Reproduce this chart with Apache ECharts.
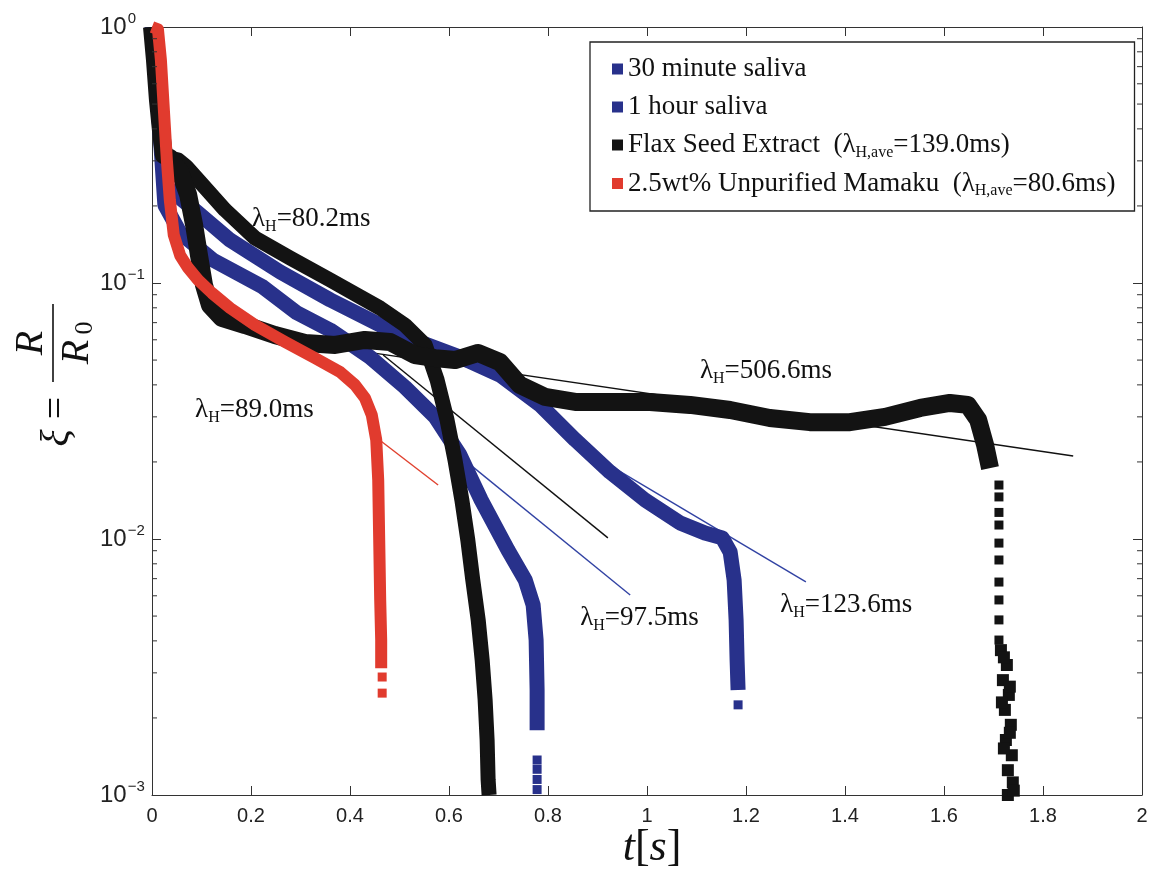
<!DOCTYPE html>
<html>
<head>
<meta charset="utf-8">
<script src="https://cdn.jsdelivr.net/npm/echarts@6.0.0/dist/echarts.min.js"></script>
<style>
  html, body { margin: 0; padding: 0; background: #fff; }
  #chart { width: 1155px; height: 876px; }
</style>
</head>
<body>
<div id="chart"></div>
<script>
// ---- measured filament thinning curves: [t (s), xi = R/R0] ----
const saliva30 = [
  [0, 1], [0.008, 0.621], [0.016, 0.396], [0.024, 0.276], [0.032, 0.235],
  [0.040, 0.228], [0.091, 0.1893], [0.158, 0.147], [0.259, 0.1104], [0.360, 0.0859],
  [0.461, 0.0685], [0.541, 0.0588], [0.622, 0.0514], [0.703, 0.0437], [0.784, 0.0334],
  [0.855, 0.0244], [0.925, 0.01828], [0.996, 0.0142], [1.067, 0.01155],
  [1.117, 0.01055], [1.152, 0.0101], [1.168, 0.0089], [1.176, 0.00692], [1.180, 0.00483],
  [1.182, 0.00337], [1.184, 0.00257]
];
const saliva30Tail = [[1.184, 0.00225]];

const saliva60 = [
  [0, 1], [0.008, 0.621], [0.016, 0.396], [0.026, 0.2016],
  [0.057, 0.1568], [0.123, 0.123], [0.224, 0.0965], [0.293, 0.0764], [0.360, 0.0655],
  [0.440, 0.0514], [0.511, 0.0392], [0.572, 0.030], [0.622, 0.0213],
  [0.665, 0.0142], [0.719, 0.00906], [0.754, 0.00692], [0.770, 0.00552], [0.776, 0.00403],
  [0.778, 0.00257], [0.778, 0.00179]
];
const saliva60Tail = [[0.778, 0.00137], [0.778, 0.00126], [0.778, 0.00115], [0.778, 0.00105]];

const flaxRunA = [
  [0, 1], [0.006, 0.743], [0.012, 0.519], [0.018, 0.396], [0.024, 0.316], [0.036, 0.308],
  [0.053, 0.302], [0.069, 0.285], [0.097, 0.248], [0.1475, 0.193], [0.208, 0.150],
  [0.279, 0.1252], [0.360, 0.1027], [0.461, 0.0798], [0.511, 0.0685], [0.552, 0.0572],
  [0.576, 0.0418], [0.596, 0.0292], [0.612, 0.0204], [0.626, 0.0142], [0.638, 0.0099],
  [0.648, 0.00692], [0.659, 0.00483], [0.667, 0.00337], [0.673, 0.00235], [0.677, 0.00164],
  [0.679, 0.00115], [0.681, 0.001]
];

const flaxRunB = [
  [0, 1], [0.006, 0.743], [0.012, 0.519], [0.018, 0.396], [0.024, 0.316], [0.036, 0.308],
  [0.057, 0.271], [0.073, 0.221], [0.085, 0.169], [0.095, 0.128], [0.105, 0.0982],
  [0.117, 0.082], [0.141, 0.073], [0.188, 0.0685], [0.248, 0.0626], [0.309, 0.0583],
  [0.370, 0.0573], [0.430, 0.0599], [0.481, 0.0588], [0.531, 0.0523], [0.572, 0.0509],
  [0.612, 0.050], [0.659, 0.0533], [0.703, 0.0491], [0.743, 0.040], [0.794, 0.0359],
  [0.855, 0.0343], [0.925, 0.0343], [1.006, 0.0343], [1.087, 0.0334], [1.168, 0.0319],
  [1.248, 0.0297], [1.329, 0.0286], [1.410, 0.0286], [1.481, 0.0300], [1.552, 0.0325],
  [1.612, 0.0340], [1.648, 0.0334], [1.669, 0.0292], [1.683, 0.0233], [1.693, 0.0189]
];
// separated drops falling off the plateau, then the dense final break-up column
const flaxRunBDrops = [
  [1.711, 0.01625], [1.711, 0.0146], [1.711, 0.0127], [1.711, 0.01134], [1.711, 0.00964],
  [1.711, 0.00828], [1.711, 0.00679], [1.711, 0.00578], [1.711, 0.00483], [1.711, 0.00403]
];
const flaxRunBEnd = [
  [1.715, 0.00368], [1.727, 0.00322], [1.719, 0.00281], [1.731, 0.00246], [1.723, 0.00215],
  [1.735, 0.00188], [1.725, 0.00164], [1.737, 0.00143], [1.729, 0.00125], [1.739, 0.00112],
  [1.729, 0.001], [1.721, 0.00345], [1.733, 0.00265], [1.717, 0.00230], [1.733, 0.00175],
  [1.721, 0.00152], [1.741, 0.00104]
];

const mamaku = [
  [0, 1], [0.012, 0.98], [0.018, 0.743], [0.024, 0.474], [0.030, 0.302], [0.036, 0.211],
  [0.044, 0.154], [0.057, 0.128], [0.073, 0.1145], [0.093, 0.1028], [0.121, 0.0914],
  [0.158, 0.0798], [0.208, 0.0685], [0.269, 0.0588], [0.329, 0.0509], [0.380, 0.0449],
  [0.410, 0.0400], [0.430, 0.0356], [0.444, 0.0305], [0.453, 0.0244], [0.457, 0.0170],
  [0.459, 0.0099], [0.461, 0.00578], [0.463, 0.00403], [0.463, 0.00313]
];
const mamakuTail = [[0.465, 0.00289], [0.465, 0.0025]];

// ---- exponential fits (straight on the log axis): start and end points ----
const fitSaliva30 = [[0.855, 0.0233], [1.321, 0.0068]];
const fitSaliva60 = [[0.606, 0.0223], [0.966, 0.00604]];
const fitFlaxA = [[0.467, 0.0523], [0.921, 0.0101]];
const fitFlaxB = [[0.202, 0.0626], [1.861, 0.0211]];
const fitMamaku = [[0.4485, 0.0253], [0.578, 0.01625]];

// ---- fit annotations: [t, xi, relaxation time text] ----
const fitLabels = [
  [0.202, 0.178, '80.2ms'],
  [0.087, 0.0319, '89.0ms'],
  [0.865, 0.00491, '97.5ms'],
  [1.269, 0.00552, '123.6ms'],
  [1.107, 0.0453, '506.6ms']
];

// ---- legend ----
const legendNames = ['30 minute saliva', '1 hour saliva', 'Flax Seed Extract', '2.5wt% Unpurified Mamaku'];
const legendText = {
  '30 minute saliva': '{n|30 minute saliva}',
  '1 hour saliva': '{n|1 hour saliva}',
  'Flax Seed Extract': '{n|Flax Seed Extract  (λ}{s|H,ave}{n|=139.0ms)}',
  '2.5wt% Unpurified Mamaku': '{n|2.5wt% Unpurified Mamaku  (λ}{s|H,ave}{n|=80.6ms)}'
};

// ---- minor tick positions on the log axis ----
const minorTicks = [
  0.002, 0.003, 0.004, 0.005, 0.006, 0.007, 0.008, 0.009,
  0.02, 0.03, 0.04, 0.05, 0.06, 0.07, 0.08, 0.09,
  0.2, 0.3, 0.4, 0.5, 0.6, 0.7, 0.8, 0.9
];

const BLUE = '#28318b';
const BLACK = '#131313';
const RED = '#e13b2e';
const AXIS = '#333';
const SERIF = '"Liberation Serif", "DejaVu Serif", serif';
const SANS = '"Liberation Sans", Arial, sans-serif';

function band(name, data, color, width, z) {
  return {
    type: 'line', name, data, symbol: 'none', showSymbol: false, silent: true,
    lineStyle: { color, width, cap: 'butt', join: 'round' },
    itemStyle: { color, opacity: 1 }, z, animation: false
  };
}
function dots(name, data, color, size, z) {
  return {
    type: 'scatter', name, data, symbol: 'rect', symbolSize: size, silent: true,
    itemStyle: { color, opacity: 1 }, z, animation: false
  };
}
function fit(data, color, z) {
  return {
    type: 'line', name: 'fit', data, symbol: 'none', silent: true,
    lineStyle: { color, width: 1.4 }, itemStyle: { color }, z, animation: false
  };
}

const chart = echarts.init(document.getElementById('chart'));

const axisCommon = {
  axisLine: { show: true, onZero: false, lineStyle: { color: AXIS, width: 1 } },
  axisTick: { show: true, inside: true, length: 9, lineStyle: { color: AXIS, width: 1 } },
  splitLine: { show: false }
};

chart.setOption({
  animation: false,
  backgroundColor: '#fff',
  grid: { left: 152, right: 13, top: 27, bottom: 81, containLabel: false },
  xAxis: [
    Object.assign({
      type: 'value', min: 0, max: 2, interval: 0.2, position: 'bottom',
      axisLabel: { color: '#222', fontFamily: SANS, fontSize: 20, margin: 11 }
    }, axisCommon),
    Object.assign({
      type: 'value', min: 0, max: 2, interval: 0.2, position: 'top',
      axisLabel: { show: false }
    }, axisCommon)
  ],
  yAxis: [
    Object.assign({
      type: 'log', logBase: 10, min: 0.001, max: 1, position: 'left',
      axisLabel: {
        color: '#222', fontFamily: SANS, margin: 52, align: 'left',
        formatter: v => {
          const e = Math.round(Math.log10(v));
          return '{b|10}{e|' + (e === 0 ? '0' : '\u2212' + (-e)) + '}';
        },
        rich: {
          b: { fontSize: 24, fontFamily: SANS, color: '#222' },
          e: { fontSize: 15, fontFamily: SANS, color: '#222', padding: [0, 0, 17, 1] }
        }
      }
    }, axisCommon),
    Object.assign({
      type: 'log', logBase: 10, min: 0.001, max: 1, position: 'right',
      axisLabel: { show: false }
    }, axisCommon)
  ],
  legend: {
    data: legendNames, orient: 'vertical', left: 590, top: 42,
    padding: [12, 19, 12, 22], itemGap: 8, itemWidth: 11, itemHeight: 11,
    icon: 'rect', borderColor: '#222', borderWidth: 1.3, backgroundColor: '#fff',
    selectedMode: false, z: 20,
    formatter: name => legendText[name],
    textStyle: {
      color: '#111', fontFamily: SERIF, fontSize: 27, lineHeight: 30,
      rich: {
        n: { fontFamily: SERIF, fontSize: 27, color: '#111' },
        s: { fontFamily: SERIF, fontSize: 16, color: '#111', padding: [15, 0, 0, 0] }
      }
    }
  },
  graphic: [
    {
      // rotated axis title: xi = R / R0
      type: 'group', x: 53, y: 380, rotation: Math.PI / 2, silent: true,
      children: [
        { type: 'text', x: -58, y: 4, style: { text: 'ξ', font: 'italic 40px ' + SERIF, fill: '#111', align: 'center', verticalAlign: 'middle' } },
        { type: 'text', x: -28, y: 4, style: { text: '=', font: '40px ' + SERIF, fill: '#111', align: 'center', verticalAlign: 'middle' } },
        { type: 'line', shape: { x1: -2, y1: 0, x2: 76, y2: 0 }, style: { stroke: '#111', lineWidth: 1.6 } },
        { type: 'text', x: 37, y: -22, style: { text: 'R', font: 'italic 40px ' + SERIF, fill: '#111', align: 'center', verticalAlign: 'middle' } },
        { type: 'text', x: 28, y: 24, style: { text: 'R', font: 'italic 40px ' + SERIF, fill: '#111', align: 'center', verticalAlign: 'middle' } },
        { type: 'text', x: 52, y: 32, style: { text: '0', font: '26px ' + SERIF, fill: '#111', align: 'center', verticalAlign: 'middle' } }
      ]
    },
    {
      type: 'text', x: 652, y: 848, silent: true,
      style: {
        text: '{i|t}{r|[}{i|s}{r|]}', align: 'center', verticalAlign: 'middle',
        rich: {
          i: { font: 'italic 44px ' + SERIF, fill: '#111' },
          r: { font: '44px ' + SERIF, fill: '#111' }
        }
      }
    }
  ],
  series: [
    fit(fitSaliva30, '#3142a3', 1),
    fit(fitSaliva60, '#3142a3', 1),
    fit(fitFlaxA, '#111', 1),
    fit(fitFlaxB, '#111', 1),
    fit(fitMamaku, '#e0412f', 1),
    band('30 minute saliva', saliva30, BLUE, 15, 2),
    dots('30 minute saliva', saliva30Tail, BLUE, 9, 2),
    band('1 hour saliva', saliva60, BLUE, 15, 2),
    dots('1 hour saliva', saliva60Tail, BLUE, 9, 2),
    band('Flax Seed Extract', flaxRunA, BLACK, 15, 3),
    band('Flax Seed Extract', flaxRunB, BLACK, 18, 3),
    dots('Flax Seed Extract', flaxRunBDrops, BLACK, 9, 3),
    dots('Flax Seed Extract', flaxRunBEnd, BLACK, 12, 3),
    band('2.5wt% Unpurified Mamaku', mamaku, RED, 12, 4),
    dots('2.5wt% Unpurified Mamaku', mamakuTail, RED, 9, 4),
    {
      type: 'custom', name: 'minor ticks', silent: true, z: 5,
      data: minorTicks.map(v => [0, v]),
      encode: { x: 0, y: 1 },
      renderItem: (params, api) => {
        const v = api.value(1);
        const a = api.coord([0, v]);
        const b = api.coord([2, v]);
        return {
          type: 'group',
          children: [
            { type: 'line', shape: { x1: a[0], y1: a[1], x2: a[0] + 5, y2: a[1] }, style: { stroke: AXIS, lineWidth: 1 } },
            { type: 'line', shape: { x1: b[0] - 5, y1: b[1], x2: b[0], y2: b[1] }, style: { stroke: AXIS, lineWidth: 1 } }
          ]
        };
      }
    },
    {
      type: 'scatter', name: 'fit labels', silent: true, z: 6, symbolSize: 0,
      itemStyle: { opacity: 1 },
      data: fitLabels,
      label: {
        show: true, position: 'right', distance: 0, color: '#111',
        formatter: p => '{l|λ}{s|H}{l|=' + p.data[2] + '}',
        rich: {
          l: { fontFamily: SERIF, fontSize: 27, color: '#111' },
          s: { fontFamily: SERIF, fontSize: 16, color: '#111', padding: [15, 0, 0, 0] }
        }
      }
    }
  ]
});
</script>
</body>
</html>
